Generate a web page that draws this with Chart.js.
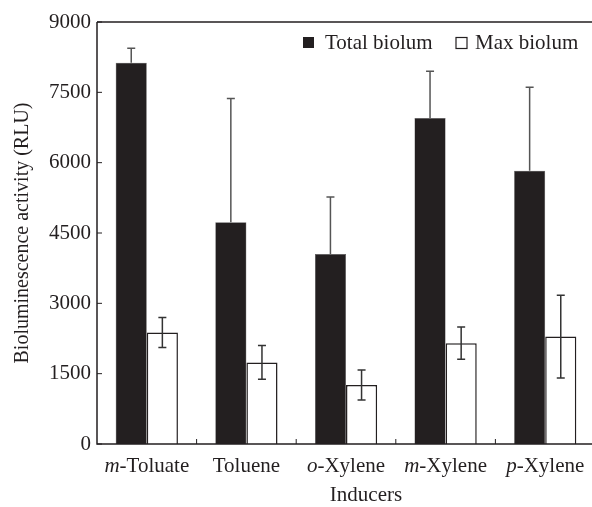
<!DOCTYPE html>
<html>
<head>
<meta charset="utf-8">
<script src="https://cdn.jsdelivr.net/npm/chart.js@4.4.1/dist/chart.umd.min.js"></script>
<style>
  html, body { margin: 0; padding: 0; overflow: hidden; background: #fff; }
</style>
</head>
<body>
<canvas id="bioChart" width="597" height="507"></canvas>
<script>
'use strict';

let categories = ['m-Toluate', 'Toluene', 'o-Xylene', 'm-Xylene', 'p-Xylene'];
let totalBiolum = [8130, 4730, 4050, 6950, 5830];
let totalErr = [310, 2640, 1220, 1000, 1780];
let maxBiolum = [2380, 1740, 1260, 2150, 2290];
let maxErr = [320, 360, 320, 345, 880];
let yTicks = [0, 1500, 3000, 4500, 6000, 7500, 9000];

let ink = '#231f20';
let serif = '"Liberation Serif", "Times New Roman", serif';

// error bars, axes details, x labels and legend drawn on top
let extras = {
  id: 'extras',
  afterDatasetsDraw(chart) {
    let ctx = chart.ctx;
    let y = chart.scales.y;
    ctx.save();
    // total: only upper whisker
    let m0 = chart.getDatasetMeta(0);
    ctx.strokeStyle = '#555';
    ctx.lineWidth = 1.5;
    for (let i = 0; i < totalBiolum.length; i++) {
      let x = m0.data[i].x;
      let top = y.getPixelForValue(totalBiolum[i] + totalErr[i]);
      let base = y.getPixelForValue(totalBiolum[i]);
      ctx.beginPath();
      ctx.moveTo(x, base);
      ctx.lineTo(x, top);
      ctx.moveTo(x - 4, top);
      ctx.lineTo(x + 4, top);
      ctx.stroke();
    }
    // max: both whiskers
    let m1 = chart.getDatasetMeta(1);
    ctx.strokeStyle = '#333';
    for (let i = 0; i < maxBiolum.length; i++) {
      let x = m1.data[i].x;
      let top = y.getPixelForValue(maxBiolum[i] + maxErr[i]);
      let bot = y.getPixelForValue(maxBiolum[i] - maxErr[i]);
      ctx.beginPath();
      ctx.moveTo(x, bot);
      ctx.lineTo(x, top);
      ctx.moveTo(x - 4, top);
      ctx.lineTo(x + 4, top);
      ctx.moveTo(x - 4, bot);
      ctx.lineTo(x + 4, bot);
      ctx.stroke();
    }
    ctx.restore();
  },
  afterDraw(chart) {
    let ctx = chart.ctx;
    let area = chart.chartArea;
    let x = chart.scales.x;
    let y = chart.scales.y;
    ctx.save();
    ctx.strokeStyle = ink;
    ctx.lineWidth = 1.5;

    // frame: left, bottom, top
    ctx.beginPath();
    ctx.moveTo(area.left, area.top);
    ctx.lineTo(area.left, area.bottom);
    ctx.lineTo(area.right, area.bottom);
    ctx.moveTo(area.left, area.top);
    ctx.lineTo(chart.width, area.top);
    ctx.stroke();

    // inward ticks
    ctx.lineWidth = 1;
    ctx.beginPath();
    for (let i = 0; i < yTicks.length; i++) {
      let py = y.getPixelForValue(yTicks[i]);
      ctx.moveTo(area.left, py);
      ctx.lineTo(area.left + 5, py);
    }
    for (let i = 1; i < categories.length; i++) {
      let px = (x.getPixelForValue(i - 1) + x.getPixelForValue(i)) / 2;
      ctx.moveTo(px, area.bottom);
      ctx.lineTo(px, area.bottom - 5);
    }
    ctx.stroke();

    // category labels with italic prefix
    ctx.fillStyle = ink;
    ctx.textBaseline = 'alphabetic';
    ctx.textAlign = 'left';
    let upright = '21px ' + serif;
    let italic = 'italic 21px ' + serif;
    for (let i = 0; i < categories.length; i++) {
      let label = categories[i];
      let pre = '';
      let rest = label;
      if (/^[mop]-/.test(label)) {
        pre = label.charAt(0);
        rest = label.slice(1);
      }
      ctx.font = italic;
      let w1 = ctx.measureText(pre).width;
      ctx.font = upright;
      let w2 = ctx.measureText(rest).width;
      let start = x.getPixelForValue(i) - (w1 + w2) / 2;
      ctx.font = italic;
      ctx.fillText(pre, start, 472);
      ctx.font = upright;
      ctx.fillText(rest, start + w1, 472);
    }

    // x title
    ctx.textAlign = 'center';
    ctx.font = '21px ' + serif;
    ctx.fillText('Inducers', 366, 501);

    // legend
    ctx.textAlign = 'left';
    ctx.font = '21px ' + serif;
    ctx.fillStyle = ink;
    ctx.fillRect(303, 37, 11, 11);
    ctx.fillText('Total biolum', 325, 49);
    ctx.lineWidth = 1.2;
    ctx.strokeRect(456, 37.5, 11, 11);
    ctx.fillText('Max biolum', 475, 49);
    ctx.restore();
  }
};

let config = {
  type: 'bar',
  data: {
    labels: categories,
    datasets: [{
      label: 'Total biolum',
      data: totalBiolum,
      backgroundColor: ink,
      borderColor: '#555',
      borderWidth: 0.5,
      categoryPercentage: 0.625,
      barPercentage: 1.0
    },
    {
      label: 'Max biolum',
      data: maxBiolum,
      backgroundColor: '#fff',
      borderColor: ink,
      borderWidth: 1.5,
      categoryPercentage: 0.625,
      barPercentage: 1.0
    }]
  },
  options: {
    responsive: false,
    animation: false,
    layout: {
      padding: { top: 22, right: 2, left: 0, bottom: 0 }
    },
    plugins: {
      legend: { display: false },
      tooltip: { enabled: false }
    },
    scales: {
      x: {
        grid: { display: false },
        border: { display: false },
        ticks: { display: false },
        afterFit(scale) { scale.height = 63; }
      },
      y: {
        min: 0,
        max: 9000,
        afterBuildTicks(scale) {
          scale.ticks = yTicks.map(v => ({ value: v }));
        },
        grid: { display: false, drawTicks: false },
        border: { display: false },
        ticks: {
          padding: 6,
          color: ink,
          font: { family: serif, size: 21 },
          callback: v => String(v)
        },
        title: {
          display: true,
          text: 'Bioluminescence activity (RLU)',
          color: ink,
          font: { family: serif, size: 20 },
          padding: { top: 11, bottom: 0 }
        },
        afterFit(scale) { scale.width = 97; }
      }
    }
  },
  plugins: [extras]
};

let bioChart = new Chart(document.getElementById('bioChart'), config);
</script>
</body>
</html>
